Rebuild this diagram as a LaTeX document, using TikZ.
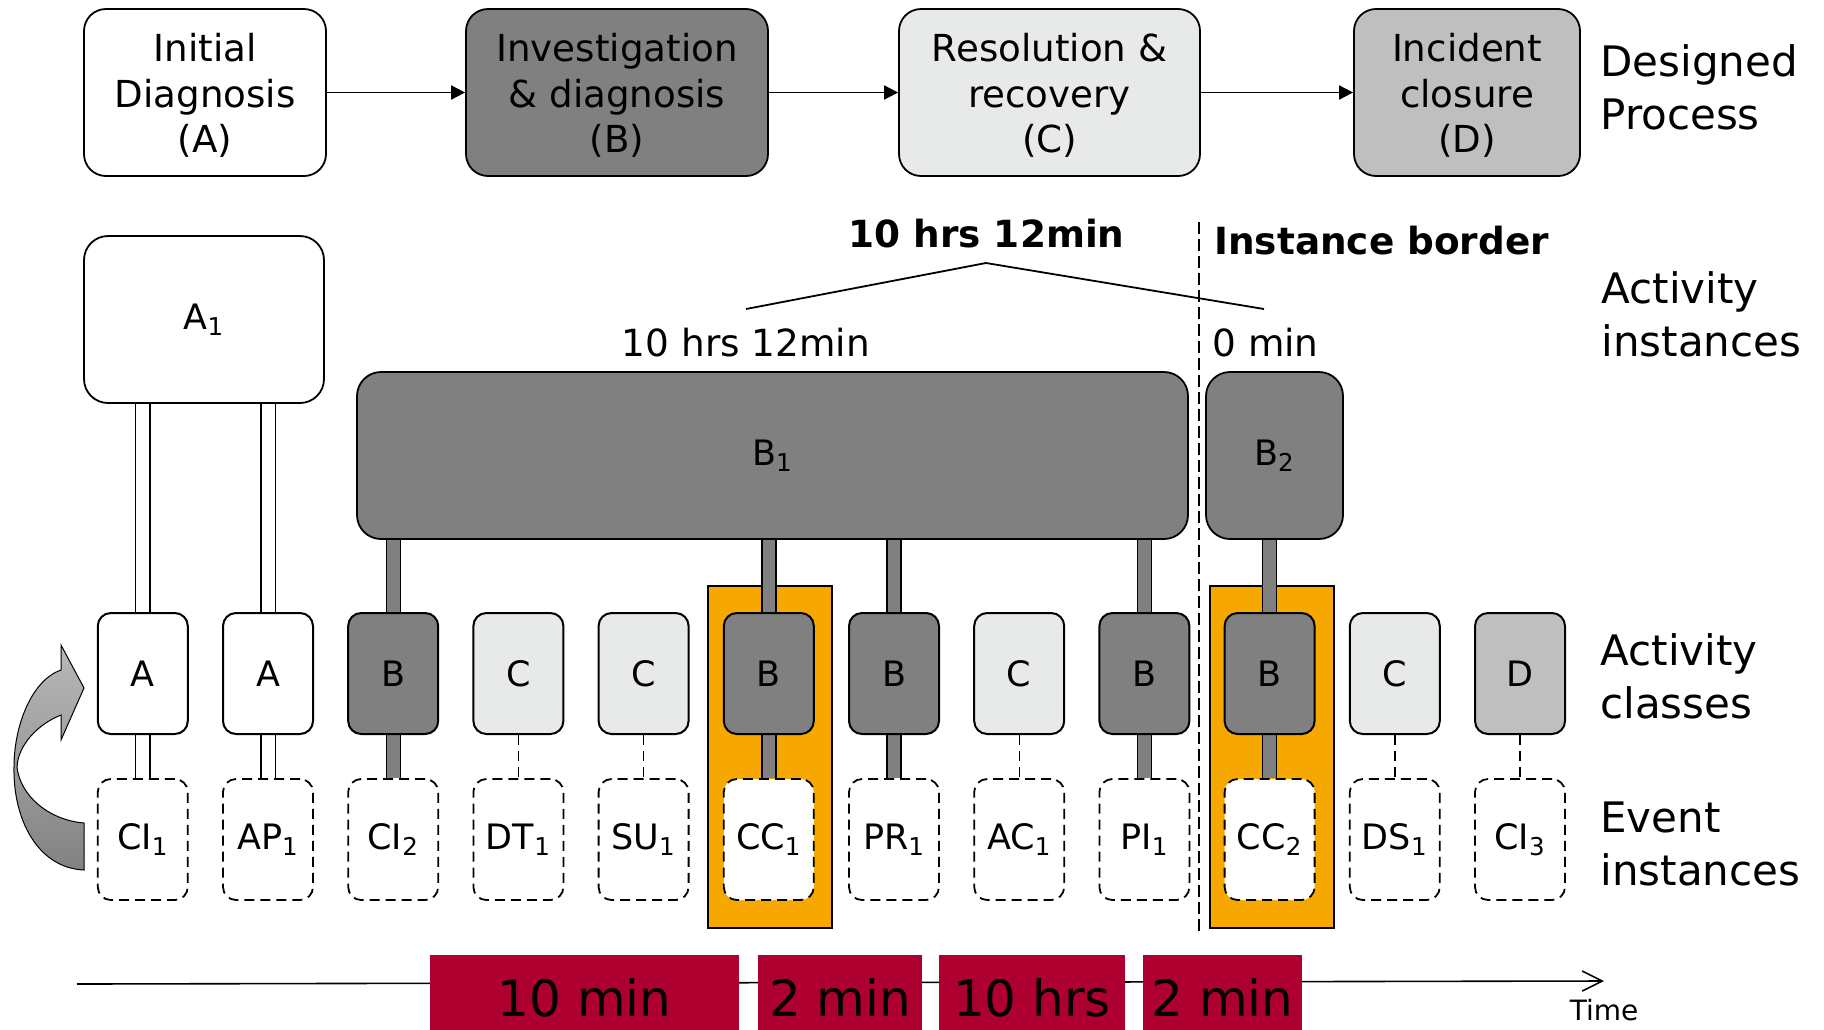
\documentclass[tikz,border=0pt]{standalone}
\usepackage{fontspec}
\setmainfont{DejaVu Sans}
\usetikzlibrary{arrows.meta}
\pgfdeclarelayer{bgA}\pgfdeclarelayer{bgB}
\pgfsetlayers{bgA,bgB,main}
\definecolor{bgray}{RGB}{128,128,128}
\definecolor{clight}{RGB}{232,234,233}
\definecolor{dgray}{RGB}{191,191,191}
\definecolor{orng}{RGB}{246,168,0}
\definecolor{redbox}{RGB}{173,0,49}
\definecolor{arrT}{RGB}{185,185,185}
\definecolor{arrB}{RGB}{130,130,130}
\begin{document}
\begin{tikzpicture}[x=0.5pt,y=-0.5pt,
  procbox/.style={draw, line width=0.9pt, rounded corners=11pt, minimum height=83.5pt, align=center, inner sep=0pt, text height=62.5pt, font=\fontsize{18.6}{22.7}\selectfont},
  instbox/.style={draw, line width=0.9pt, rounded corners=12pt, minimum height=83.5pt, inner sep=0pt, font=\fontsize{17.5}{20}\selectfont},
  classbox/.style={draw, line width=1pt, rounded corners=6.5pt, minimum width=45pt, minimum height=60.5pt, inner sep=0pt, font=\fontsize{17.5}{20}\selectfont},
  eventbox/.style={draw, fill=white, line width=0.9pt, dash pattern=on 5pt off 3pt, rounded corners=6.5pt, minimum width=45pt, minimum height=60.5pt, inner sep=0pt, font=\fontsize{17.5}{20}\selectfont},
  sidelabel/.style={anchor=west, align=left, inner sep=0pt, font=\fontsize{21}{26.5}\selectfont},
  plainlabel/.style={inner sep=0pt, font=\fontsize{18.7}{22}\selectfont},
  boldlabel/.style={inner sep=0pt, font=\bfseries\fontsize{18.7}{22}\selectfont},
  flow/.style={line width=0.9pt, -{Triangle[length=7pt,width=7pt]}},
  graybar/.style={line width=0.7pt, double=bgray, double distance=6.3pt},
  whitebar/.style={line width=0.6pt, double=white, double distance=6.5pt},
  dashlink/.style={line width=0.7pt, dash pattern=on 5pt off 3pt},
  orangebox/.style={draw, fill=orng, line width=0.8pt, minimum width=62pt, minimum height=171pt, inner sep=0pt},
  timebox/.style={fill=redbox, minimum height=42.5pt, inner sep=0pt, font=\fontsize{25}{28}\selectfont}
]
\useasboundingbox (0,0) rectangle (1824,1029);

% ---- designed process ----
\node[procbox, minimum width=121pt, fill=white] (pA) at (205,92.5) {Initial\\Diagnosis\\(A)};
\node[procbox, minimum width=151pt, fill=bgray] (pB) at (617,92.5) {Investigation\\\& diagnosis\\(B)};
\node[procbox, minimum width=150.5pt, fill=clight] (pC) at (1049.5,92.5) {Resolution \&\\recovery\\(C)};
\node[procbox, minimum width=113pt, fill=dgray] (pD) at (1467,92.5) {Incident\\closure\\(D)};
\draw[flow] (pA) -- (pB);
\draw[flow] (pB) -- (pC);
\draw[flow] (pC) -- (pD);
\node[sidelabel] (lDP) at (1600,87) {Designed\\Process};

% ---- activity instances ----
\node[sidelabel] (lAI) at (1601,314) {Activity\\instances};
\node[boldlabel] (tot) at (986.5,234) {10 hrs 12min};
\node[boldlabel, anchor=west] (ib) at (1214,241) {Instance border};
\node[plainlabel] (d1) at (746,343) {10 hrs 12min};
\node[plainlabel, anchor=west] (d2) at (1212,343) {0 min};
\coordinate (bl) at (746,309);
\coordinate (bp) at (986,263);
\coordinate (br) at (1264,309);
\draw[line width=0.9pt] (bl) -- (bp) -- (br);
\coordinate (vt) at (1199,222);
\coordinate (vb) at (1199,935);
\draw[line width=0.6pt, dash pattern=on 6pt off 2.5pt] (vt) -- (vb);

\node[instbox, fill=white, minimum width=120pt] (iA1) at (204,319.5) {A\textsubscript{1}};
\node[instbox, fill=bgray, minimum width=415.5pt] (iB1) at (772.5,455.5) {B\textsubscript{1}};
\node[instbox, fill=bgray, minimum width=68.5pt] (iB2) at (1274.5,455.5) {B\textsubscript{2}};

% ---- activity classes and events ----
\node[sidelabel] (lAC) at (1600,676) {Activity\\classes};
\node[sidelabel] (lEI) at (1600,844) {Event\\instances};

\foreach \i/\l/\f in {0/A/white,1/A/white,2/B/bgray,3/C/clight,4/C/clight,5/B/bgray,6/B/bgray,7/C/clight,8/B/bgray,9/B/bgray,10/C/clight,11/D/dgray}
  \node[classbox, fill=\f] (c\i) at ({142.8+125.2*\i},673.5) {\l};
\foreach \i/\l/\s in {0/CI/1,1/AP/1,2/CI/2,3/DT/1,4/SU/1,5/CC/1,6/PR/1,7/AC/1,8/PI/1,9/CC/2,10/DS/1,11/CI/3}
  \node[eventbox] (e\i) at ({142.8+125.2*\i},839.5) {\l\textsubscript{\s}};

\begin{pgfonlayer}{bgA}
  \node[orangebox] (o5) at (770,757) {};
  \node[orangebox] (o9) at (1272,757) {};
\end{pgfonlayer}
\begin{pgfonlayer}{bgB}
  \foreach \i in {0,1} {
    \draw[whitebar] (iA1.south -| c\i.north) -- (c\i.north);
    \draw[whitebar] (c\i.south) -- (e\i.north);
  }
  \foreach \i in {2,5,6,8} {
    \draw[graybar] (iB1.south -| c\i.north) -- (c\i.north);
    \draw[graybar] (c\i.south) -- (e\i.north);
  }
  \draw[graybar] (iB2.south -| c9.north) -- (c9.north);
  \draw[graybar] (c9.south) -- (e9.north);
  \foreach \i in {3,4,7,10,11}
    \draw[dashlink] (c\i.south) -- (e\i.north);
\end{pgfonlayer}

% ---- curved arrow ----
\shade[top color=arrT, bottom color=arrB, draw=black, line width=0.5pt]
  (84,688) -- (61,740) -- (61,715)
  .. controls (38,724) and (18,745) .. (17,767)
  .. controls (20,795) and (48,820) .. (84,823)
  -- (84,870)
  .. controls (38,868) and (13,820) .. (14,767)
  .. controls (14,725) and (32,680) .. (61,670)
  -- (61,645) -- cycle;

% ---- timeline ----
\coordinate (t0) at (77,984);
\coordinate (t1) at (1604,981);
\draw[line width=0.8pt, -{Straight Barb[length=10pt,width=10pt]}] (t0) -- (t1);
\node[timebox, minimum width=154.5pt] (r1) at (584.5,997.5) {10 min};
\node[timebox, minimum width=82pt] (r2) at (840,997.5) {2 min};
\node[timebox, minimum width=93pt] (r3) at (1032,997.5) {10 hrs};
\node[timebox, minimum width=79.5pt] (r4) at (1222.5,997.5) {2 min};
\node[inner sep=0pt, font=\fontsize{14}{16}\selectfont] (tm) at (1604,1010) {Time};
\end{tikzpicture}
\end{document}
